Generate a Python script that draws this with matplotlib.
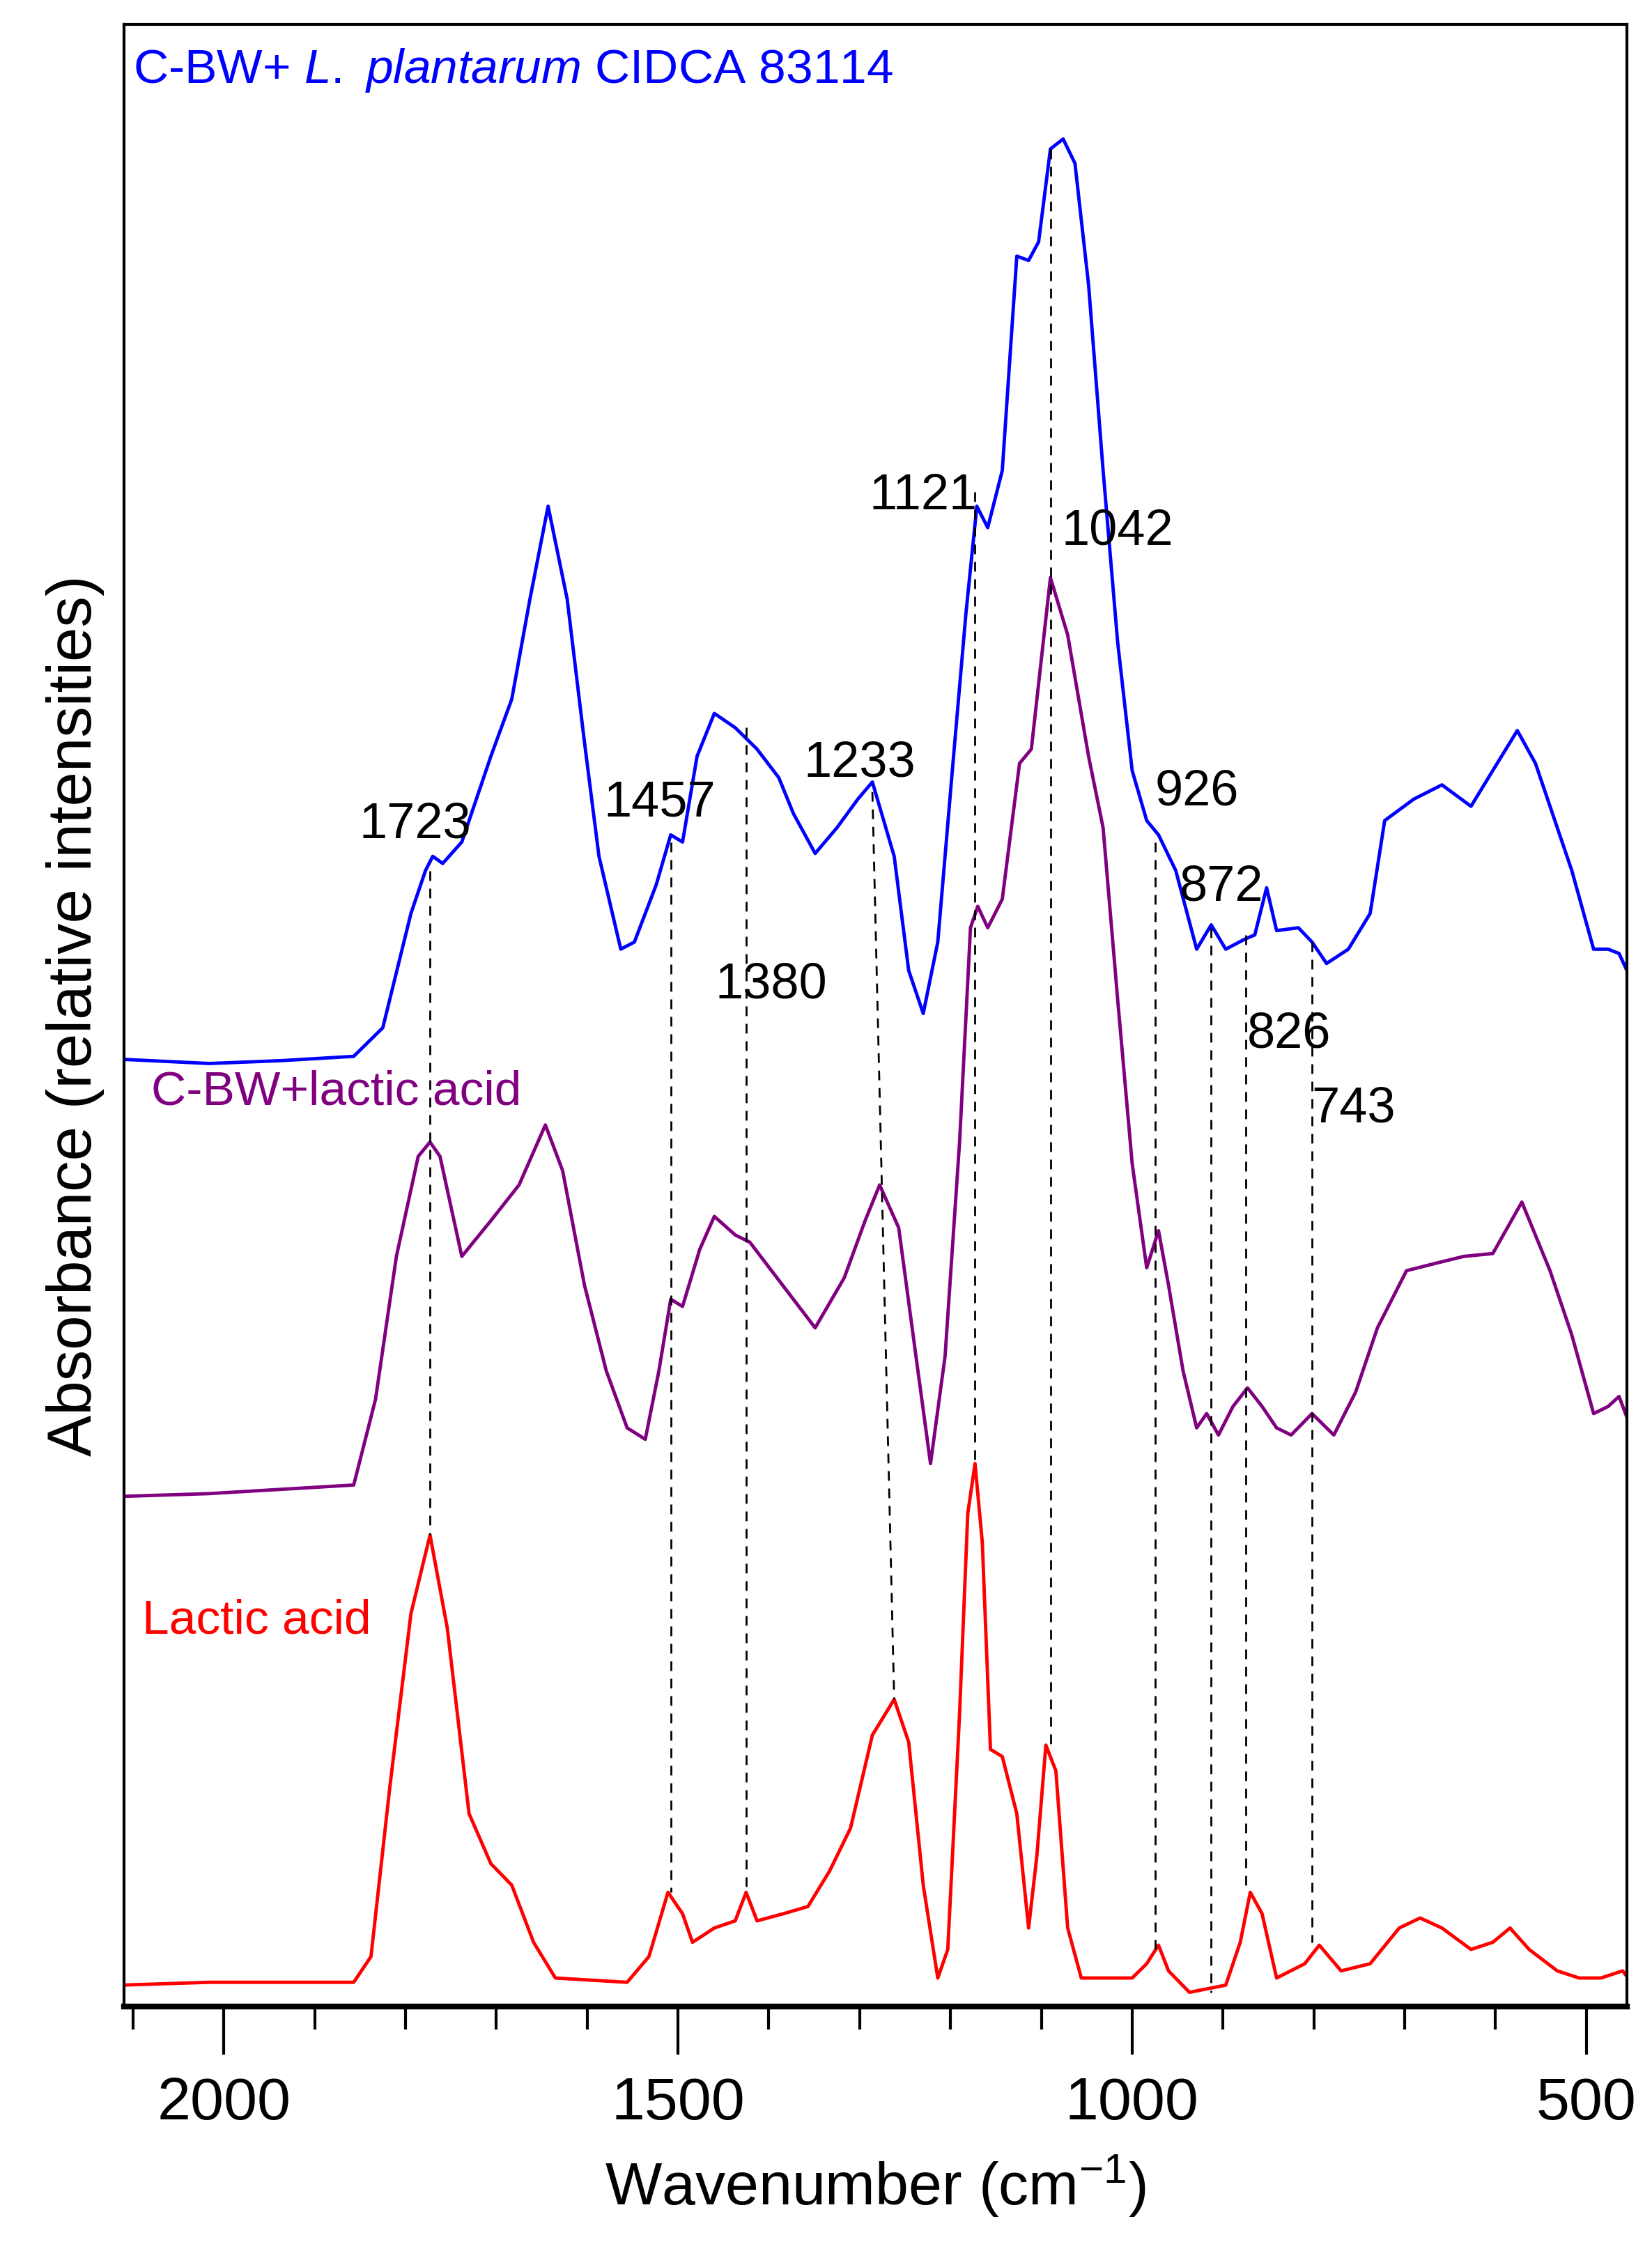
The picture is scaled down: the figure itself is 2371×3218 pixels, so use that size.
import numpy as np
import matplotlib
matplotlib.use("Agg")
import matplotlib.pyplot as plt
from matplotlib.ticker import MultipleLocator

plt.rcParams["font.family"] = "Liberation Sans"
plt.rcParams["mathtext.fontset"] = "custom"
plt.rcParams["mathtext.rm"] = "Liberation Sans"
plt.rcParams["mathtext.it"] = "Liberation Sans:italic"

# absorbance in arbitrary offset units
wn_blue = [2114, 2016, 1937, 1857, 1825, 1794, 1778, 1770, 1759, 1738, 1706, 1683, 1663, 1643,
           1622, 1603, 1587, 1563, 1548, 1524, 1508, 1495, 1479, 1460, 1437, 1413, 1389, 1373,
           1349, 1325, 1302, 1286, 1262, 1246, 1230, 1214, 1198, 1183, 1171, 1159, 1143, 1127,
           1114, 1103, 1090, 1076, 1063, 1048, 1032, 1016, 1000, 984, 971, 952, 929, 913, 897,
           876, 865, 852, 841, 817, 802, 786, 762, 738, 722, 690, 659, 627, 603, 576, 556, 532,
           516, 492, 476, 464, 448]
ab_blue = [663, 660, 662, 665, 685, 765, 795, 805, 800, 815, 875, 915, 985, 1050,
           985, 885, 805, 740, 745, 785, 820, 815, 875, 905, 895, 880, 860, 835,
           807, 825, 845, 857, 805, 725, 695, 745, 865, 975, 1050, 1035, 1075, 1225,
           1222, 1235, 1300, 1307, 1290, 1205, 1075, 955, 865, 830, 820, 795, 740, 757, 740,
           747, 750, 783, 753, 755, 745, 730, 740, 765, 830, 845, 855, 840, 865, 893, 870, 825,
           795, 740, 740, 737, 715]

wn_purple = [2114, 2016, 1857, 1833, 1810, 1786, 1773, 1762, 1738, 1706, 1675, 1646, 1627,
             1603, 1579, 1556, 1536, 1521, 1508, 1495, 1476, 1460, 1437, 1421, 1397, 1373,
             1349, 1317, 1294, 1278, 1257, 1238, 1222, 1206, 1190, 1178, 1170, 1159, 1143,
             1124, 1111, 1090, 1071, 1048, 1032, 1016, 1000, 984, 971, 960, 944, 929, 918,
             905, 889, 873, 857, 841, 825, 802, 778, 754, 730, 698, 667, 635, 603, 571, 540,
             516, 492, 476, 464, 448]
ab_purple = [357, 359, 365, 425, 525, 595, 605, 595, 525, 550, 575, 617, 585,
             505, 445, 405, 397, 445, 495, 490, 530, 553, 540, 535, 515, 495,
             475, 510, 550, 575, 545, 455, 380, 455, 605, 755, 770, 755, 775,
             870, 880, 1000, 960, 875, 825, 705, 590, 517, 543, 505, 445, 405, 415,
             400, 420, 433, 420, 405, 400, 415, 400, 430, 475, 515, 520, 525, 527, 563, 515,
             470, 415, 420, 427, 400]

wn_red = [2114, 2016, 1857, 1838, 1817, 1794, 1773, 1754, 1730, 1706, 1683, 1659, 1635, 1556,
          1532, 1511, 1495, 1484, 1460, 1437, 1425, 1413, 1384, 1357, 1333, 1310, 1286, 1262,
          1246, 1230, 1214, 1203, 1190, 1181, 1173, 1165, 1156, 1143, 1127, 1114, 1105, 1095,
          1084, 1071, 1056, 1000, 984, 971, 960, 937, 913, 897, 881, 870, 857, 841, 810, 794,
          770, 738, 706, 683, 659, 627, 603, 584, 563, 532, 508, 484, 460, 448]
ab_red = [15, 17, 17, 35, 155, 275, 330, 265, 135, 100, 85, 45, 20, 17,
          35, 80, 65, 45, 55, 60, 80, 60, 65, 70, 95, 125, 190, 215,
          185, 85, 20, 40, 205, 345, 380, 325, 180, 175, 135, 55, 105, 183,
          165, 55, 20, 20, 30, 43, 25, 10, 13, 15, 45, 80, 65, 20, 30, 43,
          25, 30, 55, 62, 55, 40, 45, 55, 40, 25, 20, 20, 25, 15]

# dashed guide lines: (wavenumber top, absorbance top, wavenumber bottom, absorbance bottom)
guides = [(1773, 795, 1773, 330), (1508, 815, 1508, 80), (1425, 895, 1425, 80),
          (1286, 850, 1262, 215), (1173, 1060, 1173, 380), (1090, 1300, 1090, 183),
          (975, 815, 975, 40), (913, 755, 913, 10), (875, 750, 875, 80), (802, 745, 802, 45)]

peak_labels = ["1723", "1457", "1380", "1233", "1121", "1042", "926", "872", "826", "743"]
label_pos = [(1789, 827), (1520, 842), (1397, 715), (1300, 870), (1230, 1057),
             (1016, 1032), (929, 850), (902, 783), (827, 680), (756, 628)]

fig = plt.figure(figsize=(23.71, 32.18), dpi=100)
ax = fig.add_axes([0.075, 0.105, 0.91, 0.884])

ax.plot(wn_blue, ab_blue, color="blue", lw=3.5)
ax.plot(wn_purple, ab_purple, color="purple", lw=3.5)
ax.plot(wn_red, ab_red, color="red", lw=3.5)

for x1, y1, x2, y2 in guides:
    ax.plot([x1, x2], [y1, y2], color="black", ls=(0, (5, 4)), lw=2)

for lab, (x, y) in zip(peak_labels, label_pos):
    ax.text(x, y, lab, fontsize=52, ha="center", va="center")

ax.text(2100, 1355, r"C-BW+ $\it{L.\ plantarum}$ CIDCA 83114", color="blue", fontsize=50, va="center")
ax.text(2080, 640, "C-BW+lactic acid", color="purple", fontsize=50, va="center")
ax.text(2090, 270, "Lactic acid", color="red", fontsize=50, va="center")

ax.set_xlim(2110, 455)
ax.set_ylim(0, 1387)
ax.set_yticks([])
ax.xaxis.set_major_locator(MultipleLocator(500))
ax.xaxis.set_minor_locator(MultipleLocator(100))
ax.tick_params(axis="x", which="major", length=50, width=3, labelsize=62, pad=22)
ax.tick_params(axis="x", which="minor", length=24, width=3)
for s in ax.spines.values():
    s.set_linewidth(3)
ax.spines["bottom"].set_linewidth(6)
ax.set_xlabel("Wavenumber (cm$^{-1}$)", fontsize=62, labelpad=22)
ax.set_ylabel("Absorbance (relative intensities)", fontsize=64, labelpad=20)

plt.savefig("out.png", dpi=100)
